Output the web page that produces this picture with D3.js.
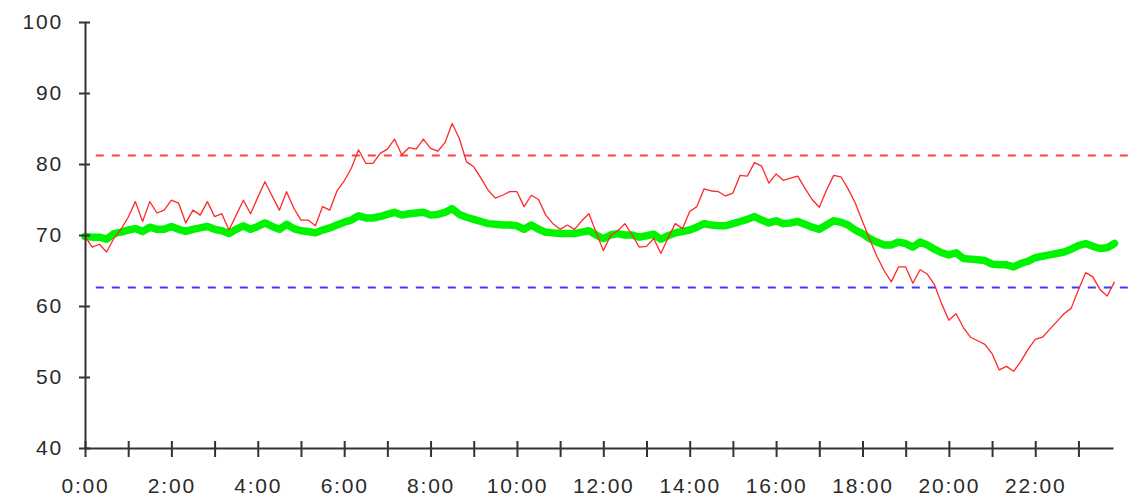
<!DOCTYPE html>
<html>
<head>
<meta charset="utf-8">
<script src="https://cdn.jsdelivr.net/npm/d3@7"></script>
<style>
  html, body { margin: 0; padding: 0; background: #fff; }
  svg { display: block; }
  .axis text { font-family: "Liberation Sans", Arial, sans-serif; font-size: 21px; letter-spacing: 1.8px; fill: #2a2a2a; }
  .axis path, .axis line { stroke: #333; stroke-width: 2; }
</style>
</head>
<body>
<svg id="chart" width="1138" height="497"></svg>
<script>
// Samples every 10 minutes from 0:00 to 23:50
const minutes = d3.range(0, 1440, 10);

// Raw reading (thin red trace)
const rawValues = [
  69.8, 68.3, 68.7, 67.6, 69.5, 70.8, 72.5, 74.7, 71.9, 74.7,
  73.1, 73.5, 74.9, 74.5, 71.7, 73.5, 72.8, 74.7, 72.6, 73.0,
  70.7, 72.8, 74.9, 73.0, 75.3, 77.5, 75.5, 73.5, 76.1, 73.8,
  72.1, 72.1, 71.3, 74.0, 73.5, 76.2, 77.6, 79.4, 82.0, 80.1,
  80.1, 81.5, 82.1, 83.5, 81.3, 82.3, 82.1, 83.5, 82.2, 81.8,
  83.0, 85.7, 83.6, 80.3, 79.6, 78.0, 76.3, 75.2, 75.6, 76.1,
  76.1, 74.0, 75.6, 75.0, 72.8, 71.6, 70.8, 71.4, 70.8, 72.0,
  73.0, 70.4, 67.8, 69.9, 70.6, 71.6, 70.0, 68.3, 68.4, 69.5,
  67.4, 69.6, 71.6, 70.9, 73.3, 74.0, 76.5, 76.2, 76.1, 75.5,
  75.9, 78.4, 78.3, 80.2, 79.7, 77.3, 78.6, 77.7, 78.0, 78.3,
  76.6, 75.0, 73.9, 76.3, 78.4, 78.2, 76.5, 74.5, 71.9, 69.4,
  67.0, 65.0, 63.4, 65.5, 65.5, 63.2, 65.1, 64.5, 63.0, 60.3,
  58.0, 58.9, 57.0, 55.6, 55.1, 54.6, 53.3, 51.0, 51.5, 50.8,
  52.2, 53.9, 55.3, 55.6, 56.7, 57.8, 58.9, 59.7, 62.3, 64.7,
  64.1, 62.3, 61.4, 63.4
];

// Smoothed reading (thick green trace)
const smoothValues = [
  69.8, 69.7, 69.7, 69.4, 70.2, 70.4, 70.7, 70.9, 70.5, 71.1,
  70.8, 70.8, 71.2, 70.8, 70.5, 70.8, 71.0, 71.2, 70.8, 70.6,
  70.2, 70.8, 71.3, 70.8, 71.2, 71.7, 71.2, 70.8, 71.5, 70.9,
  70.6, 70.5, 70.3, 70.7, 71.0, 71.4, 71.8, 72.1, 72.7, 72.4,
  72.4, 72.6, 72.9, 73.2, 72.8, 73.0, 73.1, 73.2, 72.8, 72.9,
  73.2, 73.7, 72.9, 72.5, 72.2, 71.9, 71.6, 71.5, 71.4, 71.4,
  71.3, 70.8, 71.4, 70.8, 70.4, 70.3, 70.2, 70.2, 70.2, 70.4,
  70.6, 70.0, 69.5, 70.0, 70.2, 70.0, 70.0, 69.7, 69.9, 70.1,
  69.4, 69.9, 70.3, 70.5, 70.7, 71.1, 71.6, 71.4, 71.3, 71.3,
  71.6, 71.9, 72.2, 72.6, 72.1, 71.7, 72.0, 71.6, 71.7, 71.9,
  71.5, 71.1, 70.8, 71.4, 72.0, 71.8, 71.4, 70.7, 70.2, 69.5,
  69.0, 68.6, 68.6, 69.0, 68.8, 68.3, 69.0, 68.6, 68.0, 67.5,
  67.2, 67.5, 66.7, 66.6, 66.5, 66.4, 65.9, 65.8, 65.8, 65.5,
  66.0, 66.3, 66.8, 67.0, 67.2, 67.4, 67.6, 68.0, 68.5, 68.8,
  68.4, 68.1, 68.2, 68.8
];

// Upper and lower limits, and the time span they are drawn over (minutes)
const upperLimit = 81.2;
const lowerLimit = 62.6;
const limitSpan = [15, 1452];

const yTicks = [40, 50, 60, 70, 80, 90, 100];
const xTicks = d3.range(0, 1440, 60);          // every hour
const xLabelEvery = 120;                        // label every 2 hours

const svg = d3.select("#chart");

const x = d3.scaleLinear().domain([0, 1428]).range([85, 1113]);
const y = d3.scaleLinear().domain([40, 100]).range([448, 22]);

const fmtTime = m => (m % xLabelEvery === 0) ? `${Math.floor(m / 60)}:${String(m % 60).padStart(2, "0")}` : "";

// Limit lines
const limits = [
  { v: upperLimit, color: "#ff3b3b" },
  { v: lowerLimit, color: "#3b3bff" }
];
svg.append("g").selectAll("line").data(limits).join("line")
  .attr("x1", x(limitSpan[0])).attr("x2", x(limitSpan[1]))
  .attr("y1", d => y(d.v)).attr("y2", d => y(d.v))
  .attr("stroke", d => d.color)
  .attr("stroke-width", 2)
  .attr("stroke-dasharray", "8,8");

const line = d3.line().x((d, i) => x(minutes[i])).y(d => y(d));

// Smoothed trace
svg.append("path")
  .datum(smoothValues)
  .attr("d", line)
  .attr("fill", "none")
  .attr("stroke", "#00f400")
  .attr("stroke-width", 7.5)
  .attr("stroke-linejoin", "round")
  .attr("stroke-linecap", "round");

// Raw trace
svg.append("path")
  .datum(rawValues)
  .attr("d", line)
  .attr("fill", "none")
  .attr("stroke", "#ff2828")
  .attr("stroke-width", 1.3)
  .attr("stroke-linejoin", "round");

// Y axis
const yAxis = svg.append("g").attr("class", "axis")
  .attr("transform", `translate(${x(0)},0)`)
  .call(d3.axisLeft(y).tickValues(yTicks).tickSize(6).tickSizeOuter(0).tickPadding(16));
yAxis.selectAll(".tick line").attr("x1", 5);

// X axis
const xAxis = svg.append("g").attr("class", "axis")
  .attr("transform", `translate(0,${y(40)})`)
  .call(d3.axisBottom(x).tickValues(xTicks).tickFormat(fmtTime).tickSize(9).tickSizeOuter(0).tickPadding(21));
xAxis.selectAll(".tick line").attr("y1", -7);
</script>
</body>
</html>
